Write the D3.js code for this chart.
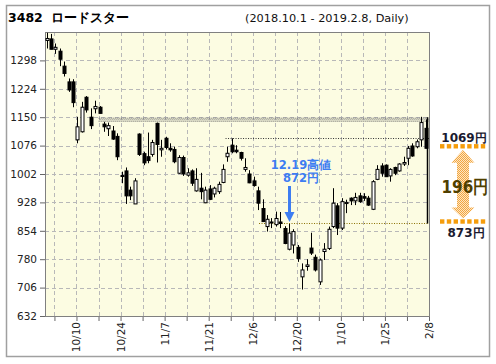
<!DOCTYPE html>
<html lang="ja">
<head>
<meta charset="UTF-8">
<script src="https://cdnjs.cloudflare.com/ajax/libs/d3/7.8.5/d3.min.js"></script>
<title>3482 ロードスター</title>
<style>
  body { margin: 0; background: #fff; }
  text { font-family: "DejaVu Sans", Verdana, sans-serif; }
</style>
</head>
<body>
<script>

// daily prices, 2018/10/1 - 2019/2/8
const opens  = [1350,1354,1327,1322,1283,1242,1242,1091,1112,1202,1150,1172,1176,1132,1120,1114,1100,997,1010,960,
                924,1106,1055,1047,1053,1134,1065,1095,1069,1066,1004,1045,999,1010,958,965,927,963,950,956,
                980,1047,1077,1064,1058,1014,1002,984,958,912,865,875,870,877,860,806,817,811,734,761,
                809,785,721,800,808,865,919,861,925,939,932,945,943,939,910,988,1023,1025,997,1019,
                1010,1028,1043,1075,1073,1091,1121];
const highs  = [1370,1367,1342,1329,1295,1251,1249,1151,1190,1205,1173,1193,1179,1138,1136,1127,1108,1008,1019,969,
                991,1108,1060,1110,1091,1136,1091,1099,1082,1073,1051,1050,1017,1014,1017,1005,969,973,969,982,
                1027,1073,1095,1077,1060,1043,1012,995,969,936,895,887,904,903,866,872,858,817,769,780,
                849,792,782,822,865,965,926,939,935,941,953,953,952,945,986,1025,1030,1027,1017,1021,
                1030,1047,1075,1082,1092,1151,1144];
const lows   = [1329,1327,1315,1283,1256,1216,1176,1082,1110,1162,1119,1160,1160,1112,1101,1091,1038,978,924,934,
                924,1049,1025,1030,1047,1032,1047,1066,1060,1030,1002,997,995,971,956,936,926,934,941,950,
                978,1034,1056,1056,1037,1008,978,969,908,878,852,861,865,861,819,803,795,773,701,750,
                791,748,713,778,804,861,843,856,900,921,921,927,932,919,908,986,995,995,982,999,
                1008,1023,1025,1047,1069,1073,1069];
const closes = [1355,1327,1332,1301,1264,1221,1188,1125,1176,1169,1128,1178,1160,1125,1128,1093,1047,998,945,945,
                984,1053,1031,1037,1084,1079,1069,1071,1065,1034,1045,1002,1005,978,988,956,960,936,965,975,
                1014,1056,1060,1060,1043,1019,979,972,926,878,884,877,886,873,821,848,852,782,752,765,
                796,752,778,806,858,926,861,930,928,932,941,930,939,921,982,1014,1004,995,1014,1004,
                1028,1032,1069,1049,1086,1136,1069];

const tickLabels = ["10/10","10/24","11/7","11/21","12/6","12/20","1/10","1/25","2/8"];
const tickIndex = [6, 16, 26, 36, 46, 56, 66, 76, 86];
const yTicks = [632, 706, 780, 854, 928, 1002, 1076, 1150, 1224, 1298];

// annotation levels
const rangeTop = 1069, rangeLow = 873, rangeDiff = 196;
const lineLevels = [1150, 1097, 873];
const lineStart = [11.8, 40.6, 48.2];
const noteIndex = 55, noteHigh = 872;

let W = 496, H = 364;
let margin = {top: 32, right: 56, bottom: 48, left: 45};

let svg = d3.select("body").append("svg")
    .attr("width", W).attr("height", H);

let defs = svg.append("defs");
let pat = defs.append("pattern").attr("id", "dots")
    .attr("width", 2).attr("height", 2).attr("patternUnits", "userSpaceOnUse");
pat.append("rect").attr("width", 2).attr("height", 2).attr("fill", "#fde6c4");
pat.append("rect").attr("width", 1).attr("height", 1).attr("fill", "#f2a640");
pat.append("rect").attr("x", 1).attr("y", 1).attr("width", 1).attr("height", 1).attr("fill", "#f2a640");

// outer frame
svg.append("rect")
    .attr("x", 6.5).attr("y", 5.5).attr("width", 483).attr("height", 351)
    .attr("fill", "none").attr("stroke", "#a0a0a0").attr("stroke-width", 1.5);

// title
svg.append("text").attr("x", 8).attr("y", 21.5)
    .style("font-size", "12.5px").style("font-weight", "bold")
    .text("3482\u00a0\u00a0ロードスター");
svg.append("text").attr("x", 245).attr("y", 21.5)
    .style("font-size", "11.3px").attr("fill", "#111")
    .text("(2018.10.1 - 2019.2.8, Daily)");

let x0 = margin.left, x1 = W - margin.right - 11;   // 45 .. 440
let y0 = H - margin.bottom, y1 = margin.top;        // 316 .. 32

let x = d3.scaleLinear().domain([-0.375, 86.77]).range([x0, x1]);
let y = d3.scaleLinear().domain([632, 1372]).range([y0, y1]);

// plot background
svg.append("rect")
    .attr("x", x0).attr("y", y1).attr("width", x1 - x0).attr("height", y0 - y1)
    .attr("fill", "#fcfce2");

// grid
let gridX = d3.range(1.77, 87, 5);
svg.append("g").selectAll("line").data(gridX).enter().append("line")
    .attr("x1", d => Math.round(x(d)) + 0.5).attr("x2", d => Math.round(x(d)) + 0.5)
    .attr("y1", y1).attr("y2", y0)
    .attr("stroke", "#b8b8b8").attr("stroke-dasharray", "4,3");
svg.append("g").selectAll("line").data(yTicks.slice(1)).enter().append("line")
    .attr("x1", x0).attr("x2", x1)
    .attr("y1", d => Math.round(y(d)) + 0.5).attr("y2", d => Math.round(y(d)) + 0.5)
    .attr("stroke", "#b8b8b8").attr("stroke-dasharray", "4,3");

// axes
let yAxis = svg.append("g").attr("transform", "translate(" + x0 + ",0)")
    .call(d3.axisLeft(y).tickValues(yTicks).tickFormat(d3.format("d")).tickSize(5).tickSizeOuter(0));
let xAxis = svg.append("g").attr("transform", "translate(0," + y0 + ")")
    .call(d3.axisBottom(x).tickValues(gridX).tickSize(5).tickSizeOuter(0).tickFormat(""));
[yAxis, xAxis].forEach(function(a) {
    a.select(".domain").remove();
    a.selectAll("line").attr("stroke", "#666");
});
yAxis.selectAll("text").style("font-size", "10.5px").attr("fill", "#222")
    .attr("font-family", null).attr("x", -8);

svg.append("g").selectAll("text").data(tickIndex).enter().append("text")
    .attr("transform", d => "translate(" + (x(d + 0.77) + 4) + "," + (y0 + 6) + ") rotate(-90)")
    .style("text-anchor", "end").style("font-size", "10.5px").attr("fill", "#222")
    .text((d, i) => tickLabels[i]);

// plot border
svg.append("rect")
    .attr("x", x0 + 0.5).attr("y", y1 + 0.5).attr("width", x1 - x0).attr("height", y0 - y1)
    .attr("fill", "none").attr("stroke", "#808080");

// support / resistance lines
svg.append("line")
    .attr("x1", x(lineStart[0])).attr("x2", x1).attr("y1", y(lineLevels[0]) + 1).attr("y2", y(lineLevels[0]) + 1)
    .attr("stroke", "#555").attr("stroke-dasharray", "1,1");
svg.append("line")
    .attr("x1", x(lineStart[0]) + 1).attr("x2", x1).attr("y1", y(lineLevels[0]) + 2.5).attr("y2", y(lineLevels[0]) + 2.5)
    .attr("stroke", "#777").attr("stroke-dasharray", "1,1");
svg.append("line")
    .attr("x1", x(lineStart[0])).attr("x2", x1).attr("y1", y(lineLevels[0]) + 4).attr("y2", y(lineLevels[0]) + 4)
    .attr("stroke", "#555").attr("stroke-dasharray", "1,1");
svg.append("line")
    .attr("x1", x(lineStart[1])).attr("x2", x1).attr("y1", Math.round(y(lineLevels[1])) + 0.5).attr("y2", Math.round(y(lineLevels[1])) + 0.5)
    .attr("stroke", "#333").attr("stroke-dasharray", "1,1.5");
svg.append("line")
    .attr("x1", x(lineStart[2])).attr("x2", x1).attr("y1", Math.round(y(lineLevels[2])) - 0.5).attr("y2", Math.round(y(lineLevels[2])) - 0.5)
    .attr("stroke", "#8a7000").attr("stroke-dasharray", "1,1.5");

// candles
let idx = d3.range(opens.length);
let cx = i => Math.round(x(i)) + 0.5;
let candles = svg.append("g");
candles.selectAll("line").data(idx).enter().append("line")
    .attr("x1", cx).attr("x2", cx)
    .attr("y1", i => y(highs[i])).attr("y2", i => y(lows[i]))
    .attr("stroke", "#000");
candles.selectAll("rect").data(idx).enter().append("rect")
    .attr("x", i => cx(i) - 1.5)
    .attr("y", i => y(Math.max(opens[i], closes[i])))
    .attr("width", 3)
    .attr("height", i => Math.max(1, Math.abs(y(opens[i]) - y(closes[i]))))
    .attr("fill", i => closes[i] >= opens[i] ? "#fff" : "#000")
    .attr("stroke", "#000");

// range marker on the right
svg.append("line")
    .attr("x1", x1 - 1.5).attr("x2", x1 - 1.5)
    .attr("y1", y(lineLevels[0])).attr("y2", y(rangeLow))
    .attr("stroke", "#000").attr("stroke-width", 1.5);

[rangeTop, rangeLow].forEach(function(v) {
    svg.append("g").selectAll("rect").data(d3.range(7)).enter().append("rect")
        .attr("x", k => 440 + k * 6.8).attr("y", y(v) - 4.2)
        .attr("width", 4.4).attr("height", 4.4).attr("fill", "#f59d0c");
});

let ax = 463, yt = y(rangeTop) + 1.5, yb = y(rangeLow) - 5;
svg.append("path")
    .attr("d", "M" + ax + "," + yt + " L" + (ax + 11.5) + "," + (yt + 13) + " L" + (ax + 6) + "," + (yt + 13) +
        " L" + (ax + 6) + "," + (yb - 11) + " L" + (ax + 11.5) + "," + (yb - 11) + " L" + ax + "," + yb +
        " L" + (ax - 11.5) + "," + (yb - 11) + " L" + (ax - 6) + "," + (yb - 11) + " L" + (ax - 6) + "," + (yt + 13) +
        " L" + (ax - 11.5) + "," + (yt + 13) + " Z")
    .attr("fill", "url(#dots)");

svg.append("text").attr("x", 464).attr("y", y(rangeTop) - 6)
    .style("text-anchor", "middle").style("font-size", "12px").style("font-weight", "bold")
    .attr("fill", "#1a1a30").text(rangeTop + "円");
svg.append("text").attr("x", 466).attr("y", y(rangeLow) + 13)
    .style("text-anchor", "middle").style("font-size", "12px").style("font-weight", "bold")
    .attr("fill", "#1a1a30").text(rangeLow + "円");
svg.append("text").attr("x", 465).attr("y", (y(rangeTop) + y(rangeLow)) / 2 + 7)
    .style("text-anchor", "middle").style("font-size", "18px").style("font-weight", "bold")
    .attr("textLength", 47).attr("lengthAdjust", "spacingAndGlyphs")
    .attr("fill", "#4f3f00")
    .text(rangeDiff + "円");

// 12.19 high note
let nx = cx(noteIndex);
svg.append("text").attr("x", 301).attr("y", 169)
    .style("text-anchor", "middle").style("font-size", "11.5px").style("font-weight", "bold")
    .attr("fill", "#3d7df2").text("12.19高値");
svg.append("text").attr("x", 301).attr("y", 181.5)
    .style("text-anchor", "middle").style("font-size", "11.5px").style("font-weight", "bold")
    .attr("fill", "#3d7df2").text(noteHigh + "円");
svg.append("line")
    .attr("x1", nx).attr("x2", nx).attr("y1", 186).attr("y2", y(noteHigh) - 10)
    .attr("stroke", "#3d7df2").attr("stroke-width", 3);
svg.append("path")
    .attr("d", "M" + (nx - 5) + "," + (y(noteHigh) - 12) + " L" + (nx + 5) + "," + (y(noteHigh) - 12) +
        " L" + nx + "," + (y(noteHigh) - 2) + " Z")
    .attr("fill", "#3d7df2");

</script>
</body>
</html>
